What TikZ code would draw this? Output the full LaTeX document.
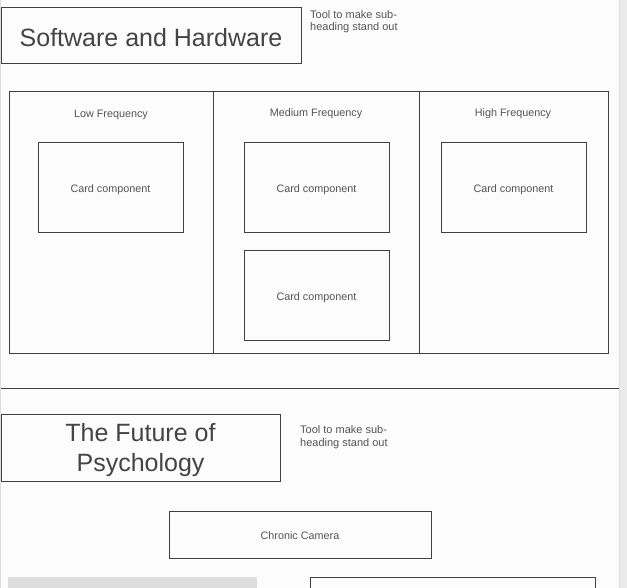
\documentclass[tikz,border=0pt]{standalone}
\usepackage{fontspec}
\setmainfont{Liberation Sans}
\definecolor{edge}{HTML}{404040}
\definecolor{ink}{HTML}{444444}
\definecolor{softink}{HTML}{555555}
\definecolor{panel}{HTML}{FCFCFC}
\definecolor{rail}{HTML}{EBEBEB}
\definecolor{railedge}{HTML}{DCDCDC}
\definecolor{placeholder}{HTML}{DDDDDD}
\begin{document}
\begin{tikzpicture}[x=1pt,y=-1pt,
  frame/.style={draw=edge,line width=1pt,rectangle,inner sep=0pt},
  heading/.style={frame,text=ink,font=\fontsize{25}{30}\selectfont,align=center},
  smalltext/.style={text=softink,font=\fontsize{10.8}{13}\selectfont,text height=9.5pt,text depth=0pt},
  card/.style={frame,smalltext,minimum width=145pt,minimum height=90pt},
  column/.style={frame,minimum height=261pt},
  colhead/.style={text=softink,font=\fontsize{10.8}{13}\selectfont,inner sep=0pt},
  note/.style={text=softink,font=\fontsize{11}{12.4}\selectfont,align=left,inner sep=0pt,anchor=north west}]
\useasboundingbox (0,0) rectangle (627,588);
\clip (0,0) rectangle (627,588);
% page background, left edge and right rail
\fill[white] (0,0) rectangle (627,588);
\fill[panel] (1,0) rectangle (619,588);
\fill[railedge] (0,0) rectangle (1,588);
\fill[rail] (619,0) rectangle (627,588);
\draw[railedge,line width=1pt] (619.5,0) -- (619.5,588);

% first section heading
\node[heading,minimum width=300pt,minimum height=56pt,text height=21pt,text depth=0pt] (hw) at (151,36) {Software and Hardware};
\node[note] (hwnote) at (310,10.3) {Tool to make sub-\\heading stand out};

% frequency columns
\node[column,minimum width=204pt] (low) at (111,222.5) {};
\node[column,minimum width=206pt] (med) at (316,222.5) {};
\node[column,minimum width=189pt] (high) at (513.5,222.5) {};
\node[colhead] (lowlbl) at (111,114.5) {Low Frequency};
\node[colhead] (medlbl) at (316,113.5) {Medium Frequency};
\node[colhead] (highlbl) at (513,113.5) {High Frequency};

% cards
\node[card] (lowcard) at (110.5,188) {Card component};
\node[card] (medcard1) at (316.5,188) {Card component};
\node[card,minimum height=89pt] (medcard2) at (316.5,295.5) {Card component};
\node[card] (highcard) at (513.5,188) {Card component};

% section separator
\coordinate (sepL) at (1,388);
\coordinate (sepR) at (619,388);
\draw[edge,line width=1pt] (sepL) -- (sepR);

% second section heading (two lines, nudged down a little inside the frame)
\node[heading,minimum width=279pt,minimum height=67pt,text height=54.2pt,text depth=5.3pt] (psy) at (140.5,447.5) {The Future of\\Psychology};
\node[note] (psynote) at (300,425.5) {Tool to make sub-\\heading stand out};

\node[frame,smalltext,minimum width=262pt,minimum height=47pt] (cam) at (300,534.5) {Chronic Camera};

% partially visible blocks at the bottom
\node[rectangle,fill=placeholder,minimum width=249pt,minimum height=30pt,inner sep=0pt,anchor=north west] (img) at (8,577) {};
\node[frame,minimum width=285pt,minimum height=30pt,anchor=north west] (txt) at (310,577) {};
\end{tikzpicture}
\end{document}
